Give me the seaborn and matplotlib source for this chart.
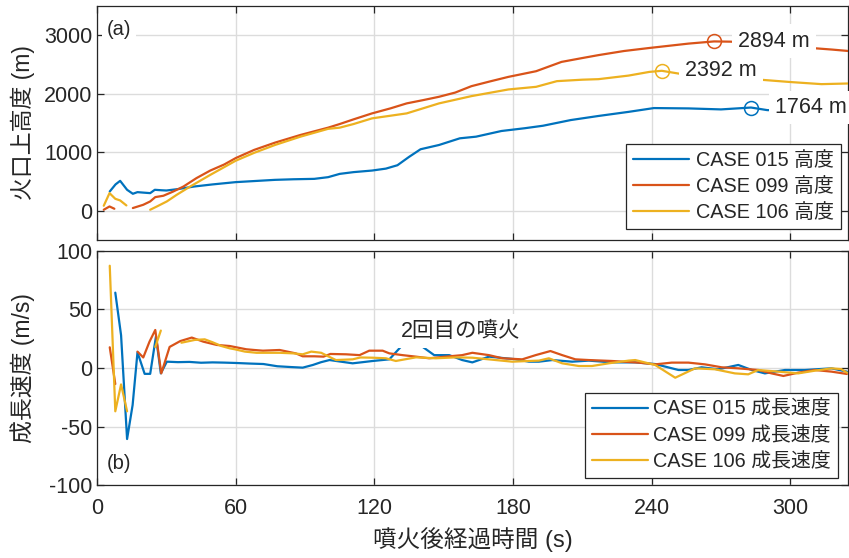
import numpy as np
import pandas as pd
import matplotlib
matplotlib.use("Agg")
import matplotlib.pyplot as plt
import seaborn as sns

nan = np.nan

# ---- crater-top height (m) ----
t_h015 = [5.5, 8, 10, 13, 15.5, 17.5, 20, 23, 25, 28, 30, 35, 42, 50, 60, 70, 77, 85, 94, 100,
          105, 111, 119, 125, 130, 135, 140, 148, 157, 164, 175, 185, 193, 205, 217, 230, 241,
          256, 270, 283, 290, 300, 310, 325]
h015 = [329, 450, 511, 358, 290, 318, 310, 301, 358, 350, 346, 370, 414, 450, 489, 512, 528, 538,
        545, 574, 630, 660, 687, 720, 778, 920, 1051, 1124, 1238, 1266, 1363, 1410, 1453, 1550,
        1620, 1690, 1755, 1749, 1732, 1764, 1720, 1710, 1700, 1690]

t_h099 = [2.9, 5.4, 7.5, 11, 15.5, 20, 23, 25.2, 28.7, 33, 37.4, 43, 49, 55, 60, 68, 77, 88, 100,
          105, 111, 119, 127, 134, 141, 148, 155, 162, 170, 178, 190, 201, 210, 217, 228, 239,
          256, 267, 274, 285, 300, 309, 318, 325]
h099 = [17, 73, 34, nan, 46, 102, 159, 233, 256, 329, 414, 557, 687, 790, 900, 1040, 1164, 1295,
        1420, 1482, 1562, 1664, 1750, 1835, 1890, 1948, 2020, 2129, 2210, 2288, 2385, 2544, 2610,
        2660, 2730, 2782, 2857, 2894, 2890, 2870, 2810, 2782, 2755, 2731]

t_h106 = [2.9, 5.4, 7.9, 10, 12.7, 18, 23, 25.9, 30.2, 34.5, 40.3, 49, 60, 68, 77, 88, 100, 105,
          111, 119, 134, 148, 162, 178, 190, 199, 210, 217, 230, 239, 244.4, 251.6, 265, 275,
          286, 300, 313.5, 325]
h106 = [85, 301, 204, 176, 91, nan, 17, 73, 159, 273, 414, 613, 855, 990, 1124, 1266, 1400, 1420,
        1482, 1579, 1664, 1835, 1959, 2073, 2118, 2215, 2240, 2249, 2310, 2373, 2392, 2345, 2290,
        2260, 2243, 2200, 2164, 2175]

# ---- growth speed (m/s) ----
t_v015 = [7.9, 10.4, 13, 15.4, 17.5, 20.6, 23, 25.5, 27.6, 30.2, 35, 40, 45, 50, 55, 60, 66, 72,
          78, 84, 89, 93.4, 97, 100.6, 105.6, 110.6, 115, 119.3, 126.5, 132.2, 136, 140.8, 145.9,
          152.4, 158, 162.4, 169.6, 176.8, 181, 186.9, 191.2, 197, 205.6, 212.8, 222.8, 232.9,
          241.5, 251.6, 255.9, 261.6, 268.8, 277.5, 283.3, 289, 297.7, 306.3, 317.8, 324.5]
v015 = [64.4, 28, -60.7, -31.6, 13.4, -5, -5, 27, -4.6, 5.4, 5, 5.2, 4.5, 4.8, 4.6, 4.3, 3.8, 3.4,
        1.5, 0.8, 0.3, 2.6, 5, 6.8, 5.4, 4, 5, 6, 7.4, 19.7, 35, 18.2, 11, 11, 6.8, 4.8, 9.7, 8.3,
        7.5, 5.4, 5.4, 6.8, 5.4, 6.3, 4.8, 4.8, 3.4, -1.7, -1.7, 0.6, -1.1, 2.6, -1.7, -4.6, -1.7,
        -1.7, -0.3, -3.1]

t_v099 = [5.5, 7.9, 12, 17.5, 20, 22.7, 25.2, 27.8, 31.4, 36, 41, 46, 51.8, 57.4, 64.6, 68, 71.8,
          79, 86, 89, 94, 98, 101, 107.8, 113.6, 117.8, 123.6, 126.5, 132.2, 138, 143.7, 150.9,
          158, 162.4, 169.6, 175.4, 184, 189.8, 196.2, 201.3, 207, 212.8, 222.8, 234.4, 241.5,
          248.7, 255.9, 263.1, 270.3, 277.5, 286.1, 291.9, 297, 303.4, 310.6, 317.8, 324.5]
v099 = [17.7, -13.7, nan, 14, 9, 22.5, 32.5, -4.6, 18, 23, 26, 22.5, 19.7, 18.8, 16, 15.4, 14.8,
        15.4, 12.5, 10, 10, 9.7, 12, 11.7, 11, 14.8, 14.8, 12.5, 11, 9.7, 8.3, 9.7, 11, 13, 11,
        8.3, 7.4, 11, 14.5, 11, 7.4, 6.8, 6, 4.6, 3.1, 4.6, 4.6, 3.1, 0.6, -0.3, -1.7, -4.6, -6.8,
        -4, -1.7, -3.1, -5.1]

t_v106 = [5.5, 7.9, 10.4, 13, 19, 25.2, 27.6, 32, 36.5, 42.3, 46.6, 50, 53.8, 57.4, 59.6, 64, 69,
          79, 85, 89, 92.7, 97, 100, 103.4, 110.6, 114, 119.3, 125, 129.3, 138, 146.6, 155.3,
          162.4, 172.5, 179.7, 186.9, 191.2, 195.5, 201.3, 208.5, 214.2, 221.4, 230, 232.9,
          241.5, 250.2, 258.8, 267.4, 276, 281.8, 286.1, 294.8, 303.4, 310.6, 317.8, 322, 324.5]
v106 = [87.4, -37, -14, -37, nan, 18, 32, nan, 21.6, 24, 24.5, 22, 18.8, 16.8, 16, 14, 13, 13,
        12.5, 11.7, 14, 13, 10, 6.8, 7.4, 9, 8.8, 8.3, 6, 9.1, 8.3, 9.1, 8.8, 6.8, 5.4, 6, 6.3,
        8.3, 4, 1.7, 1.7, 4, 6.3, 6.8, 2.6, -8.3, -0.3, -1.1, -4.6, -5.4, -1.7, -3.1, -4.6, -2.3,
        -0.3, -0.9, -4]

cases = ["015", "099", "106"]
colors = ["#0072BD", "#D95319", "#EDB120"]

# peak markers and their labels
peak_t = [283, 267, 244.4]
peak_h = [1764, 2894, 2392]
peak_label_t = [293.5, 277.5, 254.5]

x_ticks = [0, 60, 120, 180, 240, 300]

sns.set_theme(style="white")
plt.rcParams["font.family"] = ["Liberation Sans", "Noto Sans CJK JP", "DejaVu Sans"]
plt.rcParams["axes.unicode_minus"] = False
FS_TICK = 15.5
FS_LABEL = 16.5
FS_NOTE = 15.5
FS_LEG = 14.3
FS_PANEL = 14.5


def segments(t, y):
    df = pd.DataFrame({"t": t, "y": y})
    grp = df["y"].isna().cumsum()
    out = []
    for _, g in df.groupby(grp):
        g = g.dropna()
        if len(g):
            out.append(g)
    return out


def draw(ax, t, y, color, label):
    handle = None
    for seg in segments(t, y):
        sns.lineplot(data=seg, x="t", y="y", color=color, lw=1.6, ax=ax,
                     estimator=None, sort=False, legend=False, zorder=3)
        if handle is None:
            handle = ax.lines[-1]
    handle.set_label(label)
    return handle


def style(ax):
    ax.set_facecolor("white")
    ax.grid(True, color="#dcdcdc", lw=1.0, zorder=0)
    ax.set_axisbelow(True)
    for s in ax.spines.values():
        s.set_color("#262626")
        s.set_linewidth(0.9)
        s.set_visible(True)
    ax.tick_params(direction="in", length=5, width=0.9, colors="#262626",
                   labelsize=FS_TICK, top=True, right=True, bottom=True, left=True)
    ax.tick_params(axis="x", pad=9)
    ax.set_xlim(0, 325)
    ax.set_xticks(x_ticks)


def add_legend(ax, handles, anchor, textpad):
    leg = ax.legend(handles=handles, loc="lower right", bbox_to_anchor=anchor,
                    borderaxespad=0, fontsize=FS_LEG, frameon=True, fancybox=False,
                    framealpha=1, edgecolor="#262626", handlelength=2.8,
                    handletextpad=textpad, labelspacing=0.36, borderpad=0.35)
    leg.get_frame().set_linewidth(0.9)
    leg.set_zorder(10)
    return leg


fig = plt.figure(figsize=(8.49, 5.58), dpi=100)
ax1 = fig.add_axes([0.1143, 0.5699, 0.8846, 0.4194])
ax2 = fig.add_axes([0.1143, 0.1308, 0.8846, 0.4194])

# ---- (a) height ----
h_handles = []
for c, col, t, h in zip(cases, colors, [t_h015, t_h099, t_h106], [h015, h099, h106]):
    h_handles.append(draw(ax1, t, h, col, f"CASE {c} 高度"))
for col, pt, ph, lt in zip(colors, peak_t, peak_h, peak_label_t):
    ax1.plot(pt, ph, "o", mfc="none", mec=col, ms=10, mew=1.1, zorder=5)
    ax1.text(lt, ph, f"{ph} m", fontsize=FS_NOTE, va="center", ha="left", zorder=6,
             bbox=dict(boxstyle="square,pad=0.3", fc="white", ec="none"))
style(ax1)
ax1.set_ylim(-500, 3500)
ax1.set_yticks([0, 1000, 2000, 3000])
ax1.set_xlabel("")
ax1.set_ylabel("火口上高度 (m)", fontsize=FS_LABEL)
ax1.tick_params(labelbottom=False)
ax1.text(0.013, 0.9, "(a)", transform=ax1.transAxes, fontsize=FS_PANEL, va="center",
         ha="left", zorder=6, bbox=dict(boxstyle="square,pad=0.25", fc="white", ec="none"))
add_legend(ax1, h_handles, (0.99, 0.047), 0.35)

# ---- (b) growth speed ----
v_handles = []
for c, col, t, v in zip(cases, colors, [t_v015, t_v099, t_v106], [v015, v099, v106]):
    v_handles.append(draw(ax2, t, v, col, f"CASE {c} 成長速度"))
style(ax2)
ax2.set_ylim(-100, 100)
ax2.set_yticks([-100, -50, 0, 50, 100])
ax2.set_xlabel("噴火後経過時間 (s)", fontsize=17, labelpad=6)
ax2.set_ylabel("成長速度 (m/s)", fontsize=FS_LABEL)
ax2.text(131.5, 31.6, "2回目の噴火", fontsize=FS_NOTE, va="center", ha="left", zorder=6,
         bbox=dict(boxstyle="square,pad=0.3", fc="white", ec="none"))
ax2.text(0.013, 0.094, "(b)", transform=ax2.transAxes, fontsize=FS_PANEL, va="center",
         ha="left", zorder=6, bbox=dict(boxstyle="square,pad=0.25", fc="white", ec="none"))
add_legend(ax2, v_handles, (0.986, 0.03), 0.25)

for ax in (ax1, ax2):
    ax.yaxis.set_label_coords(-0.083, 0.5)

fig.savefig("out.png", dpi=100)
